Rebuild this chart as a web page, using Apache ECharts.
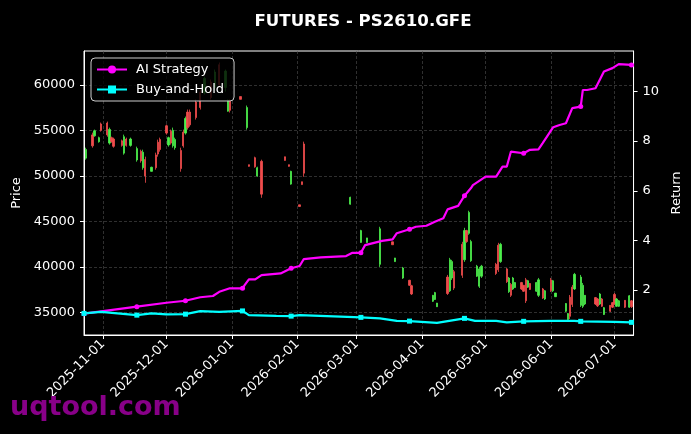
<!DOCTYPE html>
<html><head><meta charset="utf-8">
<script src="https://cdn.jsdelivr.net/npm/echarts@6/dist/echarts.min.js"></script>
<style>html,body{margin:0;padding:0;background:#000}#c{width:691px;height:434px}</style>
</head><body><div id="c"></div>
<script>
// ---------- data ----------
const candleDates = ['2025-10-24','2025-10-27','2025-10-28','2025-10-30','2025-10-31','2025-11-03','2025-11-04','2025-11-05','2025-11-06','2025-11-10','2025-11-11','2025-11-12','2025-11-14','2025-11-17','2025-11-19','2025-11-20','2025-11-21','2025-11-24','2025-11-26','2025-11-27','2025-11-28','2025-12-01','2025-12-02','2025-12-03','2025-12-04','2025-12-05','2025-12-08','2025-12-09','2025-12-10','2025-12-11','2025-12-12','2025-12-15','2025-12-17','2025-12-19','2025-12-22','2025-12-24','2025-12-26','2025-12-29','2025-12-30','2025-12-31','2026-01-05','2026-01-08','2026-01-09','2026-01-12','2026-01-13','2026-01-15','2026-01-26','2026-01-28','2026-01-29','2026-02-02','2026-02-03','2026-02-04','2026-02-26','2026-03-03','2026-03-06','2026-03-12','2026-03-18','2026-03-19','2026-03-23','2026-03-26','2026-03-27','2026-04-06','2026-04-07','2026-04-08','2026-04-13','2026-04-14','2026-04-15','2026-04-16','2026-04-20','2026-04-21','2026-04-22','2026-04-23','2026-04-24','2026-04-27','2026-04-28','2026-04-29','2026-05-06','2026-05-07','2026-05-08','2026-05-11','2026-05-12','2026-05-13','2026-05-14','2026-05-15','2026-05-18','2026-05-19','2026-05-20','2026-05-21','2026-05-22','2026-05-25','2026-05-26','2026-05-28','2026-05-29','2026-06-01','2026-06-02','2026-06-03','2026-06-08','2026-06-09','2026-06-10','2026-06-11','2026-06-12','2026-06-15','2026-06-16','2026-06-17','2026-06-22','2026-06-23','2026-06-24','2026-06-25','2026-06-26','2026-06-29','2026-06-30','2026-07-01','2026-07-02','2026-07-03','2026-07-06','2026-07-08','2026-07-09'];
const candleOpen  = [51950,54500,54400,53750,55700,55800,53600,54200,54050,53850,52500,54050,53350,51750,52700,50900,51800,50500,52300,53700,54000,55500,53400,54900,53300,53100,52800,54800,54700,57000,57000,58100,59200,59100,60300,59700,62200,59700,57100,58300,58700,55300,51230,52000,50000,51600,52100,51230,49100,46830,49360,53500,46900,42700,42700,40300,42770,40600,38800,38550,37950,36250,36450,35650,38900,37400,38800,39500,42500,40800,44000,43700,40700,39000,37900,39000,40300,42400,40600,39800,37300,38100,37600,37750,38300,38000,38600,37800,38200,37350,36900,37600,36500,38600,37400,36750,35150,34250,36700,37800,37600,35800,35700,35950,36650,36500,35950,36500,34800,35800,36100,37000,35700,35700,36350,35600,36300];
const candleClose = [52900,53300,54950,54200,55000,54500,55100,53750,53250,53350,54300,53350,54050,53000,51650,52600,50000,50950,50900,52400,52900,54700,54200,53600,55000,54000,50800,53300,56300,55300,55600,56400,57500,60700,58600,61400,60000,61500,58300,57200,58400,57500,51050,51000,50900,48000,51700,51050,50500,46650,49050,50300,47650,44000,43200,44200,42450,41000,39900,38000,37050,36900,37200,36050,37100,40800,40600,37700,39100,44000,42800,46000,42800,40100,39800,40100,39300,39700,42500,38400,38800,36900,38800,38300,37600,37350,36300,38500,37550,38300,38600,36600,37400,37400,38500,37150,36000,34900,34600,35900,39200,38900,38000,36900,35950,35750,37050,35700,35550,35150,35600,36000,36500,36300,35600,36850,35650];
const candleLow   = [51780,53100,54300,53650,54860,54300,53430,53650,53100,53210,52330,53210,53210,51560,51450,50680,49250,50460,50680,52110,52660,54530,53210,53430,53100,52880,50460,53100,54530,55080,55400,56180,57280,58930,58380,59480,59700,59250,57050,56950,58380,55080,51010,50900,49910,47600,51670,51010,49030,46620,49030,49910,46840,42660,42660,40020,42440,40570,38700,37930,36940,36170,36390,35620,36940,37270,38590,37490,38810,40570,42660,43540,40570,38920,37710,38810,39140,39470,40460,38260,37160,36720,37490,37710,37490,37270,36060,37710,37490,37270,36720,36500,36390,37270,37270,36720,35070,34190,34300,35620,37490,35620,35510,35840,35840,35620,35840,35620,34740,35070,35510,35840,35620,35620,35510,35510,35510];
const candleHigh  = [53100,54750,55080,54310,55850,55960,55300,54310,54200,53980,54530,54200,54200,53210,52880,52880,52110,51010,52550,53980,54200,55630,54310,55080,55300,54200,53100,55080,56510,57280,57280,58380,59480,60900,60570,61670,62440,61670,58380,58380,58710,57720,51240,52110,51010,51780,52110,51240,50570,46840,49370,53760,47720,44090,43210,44420,42780,41010,40020,38600,38050,36950,37280,36070,39140,41010,40790,39690,42770,44310,44090,46180,42990,40240,40020,40240,40460,42660,42660,39910,38920,38260,38920,38370,38370,38040,38810,38590,38260,38370,38810,37710,37490,38810,38590,37160,36060,34960,36940,38040,39360,39140,38260,36940,36720,36610,37160,36610,35620,35840,36170,37160,36610,36390,36390,36940,36390];

const aiDates = ['2025-10-23','2025-11-01','2025-11-17','2025-12-01','2025-12-10','2025-12-17','2025-12-23','2025-12-26','2025-12-31','2026-01-06','2026-01-07','2026-01-09','2026-01-12','2026-01-15','2026-01-24','2026-01-29','2026-02-02','2026-02-04','2026-02-12','2026-02-24','2026-02-27','2026-03-03','2026-03-05','2026-03-13','2026-03-18','2026-03-20','2026-03-26','2026-03-29','2026-04-03','2026-04-07','2026-04-11','2026-04-13','2026-04-18','2026-04-21','2026-04-24','2026-04-25','2026-05-01','2026-05-06','2026-05-09','2026-05-11','2026-05-13','2026-05-19','2026-05-22','2026-05-26','2026-05-28','2026-06-02','2026-06-05','2026-06-08','2026-06-11','2026-06-15','2026-06-16','2026-06-18','2026-06-22','2026-06-26','2026-06-30','2026-07-03','2026-07-09','2026-07-10'];
const aiReturn = [1.05,1.15,1.33,1.49,1.57,1.71,1.76,1.93,2.07,2.07,2.20,2.43,2.43,2.60,2.67,2.88,2.97,3.25,3.32,3.37,3.50,3.50,3.81,3.98,4.04,4.29,4.45,4.55,4.59,4.75,4.89,5.25,5.39,5.80,6.10,6.23,6.57,6.57,6.97,6.97,7.58,7.51,7.65,7.67,7.92,8.56,8.65,8.72,9.33,9.39,10.06,10.06,10.13,10.80,10.94,11.10,11.07,11.07];

const bhDates = ['2025-10-23','2025-10-31','2025-11-17','2025-11-24','2025-12-01','2025-12-10','2025-12-17','2025-12-26','2026-01-06','2026-01-09','2026-01-22','2026-01-29','2026-02-02','2026-03-03','2026-03-12','2026-03-20','2026-03-26','2026-04-08','2026-04-21','2026-04-26','2026-05-06','2026-05-11','2026-05-19','2026-06-01','2026-06-12','2026-06-15','2026-07-01','2026-07-09','2026-07-10'];
const bhReturn = [1.06,1.12,0.99,1.06,1.02,1.03,1.15,1.12,1.16,0.99,0.96,0.95,0.99,0.90,0.86,0.76,0.75,0.68,0.86,0.76,0.76,0.70,0.74,0.76,0.76,0.74,0.72,0.70,0.70];

const markerDates = ['2025-10-23','2025-11-17','2025-12-10','2026-01-06','2026-01-29','2026-03-03','2026-03-26','2026-04-21','2026-05-19','2026-06-15','2026-07-09'];
const monthTicks = ['2025-11-01','2025-12-01','2026-01-01','2026-02-01','2026-03-01','2026-04-01','2026-05-01','2026-06-01','2026-07-01'];
const priceTicks = [35000,40000,45000,50000,55000,60000];
const returnTicks = [2,4,6,8,10];

// ---------- helpers ----------
function ts(s){const p=s.split('-').map(Number);return new Date(p[0],p[1]-1,p[2]).getTime();}
function pad(n){return (n<10?'0':'')+n;}
function fmtDate(v){const d=new Date(v);return d.getFullYear()+'-'+pad(d.getMonth()+1)+'-'+pad(d.getDate());}
const markerSet = new Set(markerDates);

const candleData = candleDates.map((d,i)=>[ts(d),candleOpen[i],candleClose[i],candleLow[i],candleHigh[i]]);
function lineData(dates, vals){
  return dates.map((d,i)=>{
    const o={value:[ts(d),vals[i]]};
    if(!markerSet.has(d)) o.symbol='none';
    return o;
  });
}

const WHITE='#ffffff', FONT='DejaVu Sans';
const GRIDC='#4f4f4f';
const monthTs = monthTicks.map(ts);
const chart = echarts.init(document.getElementById('c'));
chart.setOption({
  backgroundColor:'#000000',
  animation:false,
  textStyle:{fontFamily:FONT},
  title:{text:'FUTURES - PS2610.GFE',left:358,top:8,textAlign:'center',
    textStyle:{color:WHITE,fontSize:16.6,fontWeight:'bold',fontFamily:FONT}},
  legend:{orient:'vertical',left:91,top:58,padding:[5,10,5,5],itemGap:7,itemWidth:30,itemHeight:10,
    backgroundColor:'rgba(0,0,0,0.8)',borderColor:'#cccccc',borderWidth:1,borderRadius:4,
    textStyle:{color:WHITE,fontSize:13,fontFamily:FONT,padding:[0,0,0,4]},
    data:['AI Strategy','Buy-and-Hold']},
  grid:{left:84,right:57,top:51,bottom:99,show:true,borderColor:WHITE,borderWidth:1,backgroundColor:'#000'},
  xAxis:{type:'value',min:ts('2025-10-23'),max:ts('2026-07-10'),scale:true,
    axisLine:{show:true,onZero:false,lineStyle:{color:WHITE}},
    axisTick:{show:true,length:4,lineStyle:{color:WHITE},customValues:monthTs},
    axisLabel:{color:WHITE,fontSize:13,fontFamily:FONT,rotate:45,margin:7,customValues:monthTs,formatter:fmtDate},
    splitLine:{show:true,lineStyle:{color:GRIDC,width:0.6,type:[3,2]}}},
  yAxis:[
    {type:'value',min:32549,max:63703,position:'left',name:'Price',nameLocation:'middle',nameGap:56,nameRotate:90,
      nameTextStyle:{color:WHITE,fontSize:13,fontFamily:FONT},
      axisLine:{show:true,lineStyle:{color:WHITE}},
      axisTick:{show:true,length:4,lineStyle:{color:WHITE},customValues:priceTicks},
      axisLabel:{color:WHITE,fontSize:13,fontFamily:FONT,margin:9,customValues:priceTicks,formatter:v=>String(v)},
      splitLine:{show:true,lineStyle:{color:GRIDC,width:0.6,type:[3,2]}}},
    {type:'value',min:0.19,max:11.63,position:'right',name:'Return',nameLocation:'middle',nameGap:31,nameRotate:90,
      nameTextStyle:{color:WHITE,fontSize:13,fontFamily:FONT},
      axisLine:{show:true,lineStyle:{color:WHITE}},
      axisTick:{show:true,length:4,lineStyle:{color:WHITE},customValues:returnTicks},
      axisLabel:{color:WHITE,fontSize:13,fontFamily:FONT,margin:9,customValues:returnTicks,formatter:v=>String(v)},
      splitLine:{show:false}}
  ],
  series:[
    {type:'candlestick',name:'Price',xAxisIndex:0,yAxisIndex:0,data:candleData,
      encode:{x:0,y:[1,2,3,4]},barWidth:1.8,
      itemStyle:{color:'#4cf04c',color0:'#f04c4c',borderColor:'#4cf04c',borderColor0:'#f04c4c',borderWidth:0.8},z:2},
    {type:'line',name:'AI Strategy',yAxisIndex:1,data:lineData(aiDates,aiReturn),
      symbol:'circle',symbolSize:5,showSymbol:true,
      lineStyle:{color:'#ff00ff',width:2.2},itemStyle:{color:'#ff00ff'},z:5},
    {type:'line',name:'Buy-and-Hold',yAxisIndex:1,data:lineData(bhDates,bhReturn),
      symbol:'rect',symbolSize:5,showSymbol:true,
      lineStyle:{color:'#00ffff',width:2.2},itemStyle:{color:'#00ffff'},z:5}
  ],
  graphic:[{type:'text',left:10,top:394,z:100,
    style:{text:'uqtool.com',fill:'#880088',font:'bold 27px "DejaVu Sans"'}}]
});
</script></body></html>
